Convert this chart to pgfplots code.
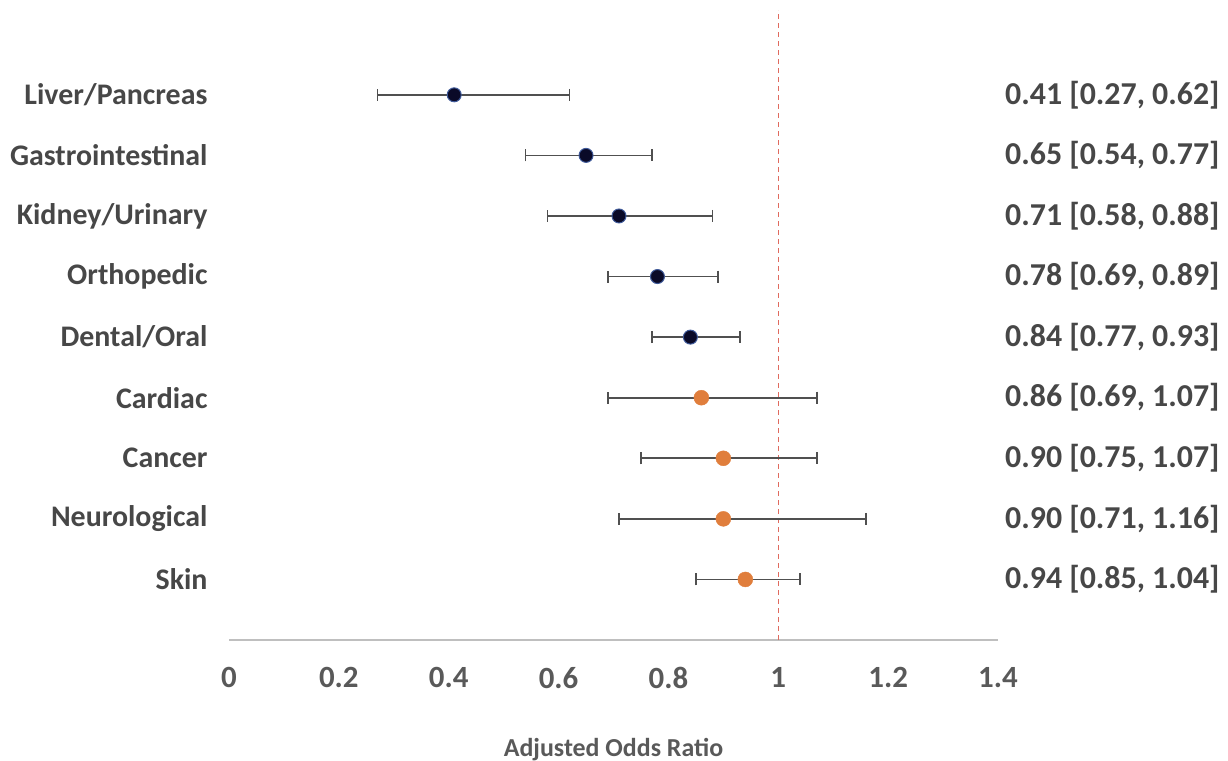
\documentclass[border=0pt]{standalone}
\usepackage{pgfplots}
\pgfplotsset{compat=1.18}
\usepackage{pgfplotstable}
\usepackage{fontspec}
\setmainfont{Carlito}
\definecolor{txt}{HTML}{595959}
\definecolor{lab}{HTML}{474747}
\definecolor{navy}{HTML}{0A0A28}
\definecolor{navyedge}{HTML}{3F5A9A}
\definecolor{orng}{HTML}{E07E3C}
\definecolor{redl}{HTML}{E06A5E}
\definecolor{axg}{HTML}{BFBFBF}
\definecolor{errc}{HTML}{505050}

\pgfplotstableread{
y or em ep
9 0.41 0.14 0.21
8 0.65 0.11 0.12
7 0.71 0.13 0.17
6 0.78 0.09 0.11
5 0.84 0.07 0.09
}\sig
\pgfplotstableread{
y or em ep
4 0.86 0.17 0.21
3 0.90 0.15 0.17
2 0.90 0.19 0.26
1 0.94 0.09 0.10
}\nsig

\begin{document}
\begin{tikzpicture}[x=1bp,y=1bp]
\useasboundingbox (0,0) rectangle (1228,-761);
\begin{axis}[
  at={(229bp,-640bp)}, anchor=south west,
  scale only axis, width=769bp, height=630bp,
  xmin=0, xmax=1.4, ymin=0, ymax=10.4,
  clip=false,
  axis x line*=bottom, axis y line=none,
  x axis line style={draw=axg, line width=1.2bp, -},
  xtick={0,0.2,...,1.4},
  xticklabels={0,0.2,0.4,0.6,0.8,1,1.2,1.4},
  major tick length=0pt,
  xticklabel style={font=\fontsize{31}{33}\selectfont\bfseries, text=txt, yshift=-24bp},
  xlabel={Adjusted Odds Ratio},
  xlabel style={font=\fontsize{26}{28}\selectfont\bfseries, text=txt, yshift=-42bp},
  error bars/error bar style={draw=errc, line width=1.6bp},
  error bars/error mark options={draw=errc, line width=1.6bp, rotate=90, mark size=6bp},
]
\draw[redl, line width=1.5bp, dash pattern=on 5bp off 4bp] (axis cs:1,0) -- (axis cs:1,10.4);
\addplot[only marks, mark=*, mark size=7bp, mark options={fill=navy, draw=navyedge, line width=1bp},
  error bars/.cd, x dir=both, x explicit]
  table[x=or, y=y, x error plus=ep, x error minus=em] {\sig};
\addplot[only marks, mark=*, mark size=7.5bp, mark options={fill=orng, draw=orng},
  error bars/.cd, x dir=both, x explicit]
  table[x=or, y=y, x error plus=ep, x error minus=em] {\nsig};
\foreach \yy/\nm/\vv in {9/Liver\slash Pancreas/{0.41 [0.27, 0.62]},
                        8/Gastrointestinal/{0.65 [0.54, 0.77]},
                        7/Kidney\slash Urinary/{0.71 [0.58, 0.88]},
                        6/Orthopedic/{0.78 [0.69, 0.89]},
                        5/Dental\slash Oral/{0.84 [0.77, 0.93]},
                        4/Cardiac/{0.86 [0.69, 1.07]},
                        3/Cancer/{0.90 [0.75, 1.07]},
                        2/Neurological/{0.90 [0.71, 1.16]},
                        1/Skin/{0.94 [0.85, 1.04]}}{
  \edef\tmp{\noexpand\node[anchor=east, font=\noexpand\fontsize{30}{32}\noexpand\selectfont\noexpand\bfseries, text=lab, xshift=-18bp] at (axis cs:0,\yy) {\unexpanded\expandafter{\nm}};}\tmp
  \edef\tmp{\noexpand\node[anchor=east, font=\noexpand\fontsize{32}{34}\noexpand\selectfont\noexpand\bfseries, text=lab, xshift=225bp] at (axis cs:1.4,\yy) {\unexpanded\expandafter{\vv}};}\tmp
}
\end{axis}
\end{tikzpicture}
\end{document}
